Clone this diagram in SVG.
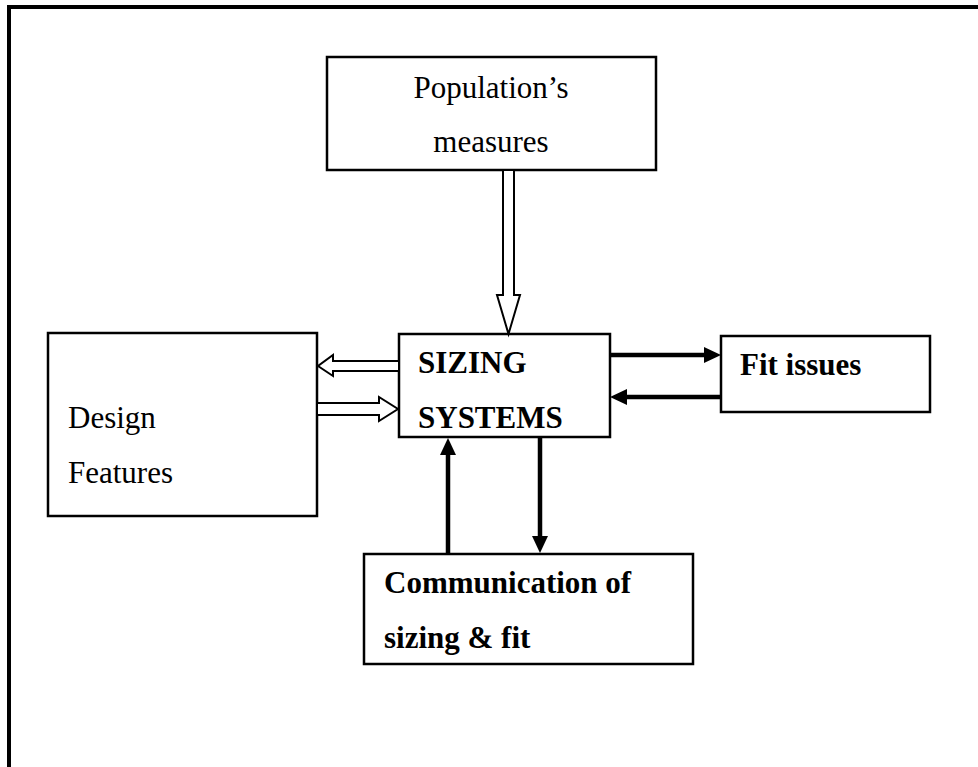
<svg xmlns="http://www.w3.org/2000/svg" width="978" height="767" viewBox="0 0 978 767">
<style>
.box{fill:#fff;stroke:#000;stroke-width:2.5}
.t{font-family:"Liberation Serif","Times New Roman",serif;font-size:31px;fill:#000}
.b{font-weight:bold}
.hollow{fill:#fff;stroke:#000;stroke-width:2;stroke-linejoin:miter}
.thick{stroke:#000;stroke-width:4.5;fill:none}
</style>
<defs>
<marker id="ah" markerWidth="4" markerHeight="4" refX="4" refY="2" orient="auto" markerUnits="strokeWidth">
<path d="M0,0 L4,2 L0,4 z" fill="#000"/>
</marker>
</defs>
<rect x="9" y="7" width="1000" height="800" fill="none" stroke="#000" stroke-width="4"/>
<g id="population">
<rect class="box" x="327" y="57" width="329" height="113"/>
<text class="t" x="491" y="98" text-anchor="middle">Population’s</text>
<text class="t" x="491" y="152" text-anchor="middle">measures</text>
</g>
<g id="sizing">
<rect class="box" x="399" y="334" width="211" height="103"/>
<text class="t b" x="418" y="373">SIZING</text>
<text class="t b" x="418" y="428">SYSTEMS</text>
</g>
<g id="fit">
<rect class="box" x="721" y="336" width="209" height="76"/>
<text class="t b" x="740" y="375">Fit issues</text>
</g>
<g id="design">
<rect class="box" x="48" y="333" width="269" height="183"/>
<text class="t" x="68" y="428">Design</text>
<text class="t" x="68" y="483">Features</text>
</g>
<g id="communication">
<rect class="box" x="364" y="554" width="329" height="110"/>
<text class="t b" x="384" y="593">Communication of</text>
<text class="t b" x="384" y="648">sizing &amp; fit</text>
</g>
<g id="connectors">
<polygon class="hollow" points="503,170 514,170 514,295 520,295 508.5,334 497,295 503,295"/>
<polygon class="hollow" points="399,361 333,361 333,355 318,366 333,376 333,371 399,371"/>
<polygon class="hollow" points="317,403 379,403 379,397 398,409 379,421 379,415 317,415"/>
<line class="thick" x1="610" y1="355" x2="706" y2="355"/>
<polygon points="704,347 721,355 704,363" fill="#000"/>
<line class="thick" x1="721" y1="397" x2="624" y2="397"/>
<polygon points="627,389 610,397 627,405" fill="#000"/>
<line class="thick" x1="448" y1="554" x2="448" y2="453"/>
<polygon points="440,455 448,438 456,455" fill="#000"/>
<line class="thick" x1="540" y1="437" x2="540" y2="538"/>
<polygon points="532,536 540,553 548,536" fill="#000"/>
</g>
</svg>
